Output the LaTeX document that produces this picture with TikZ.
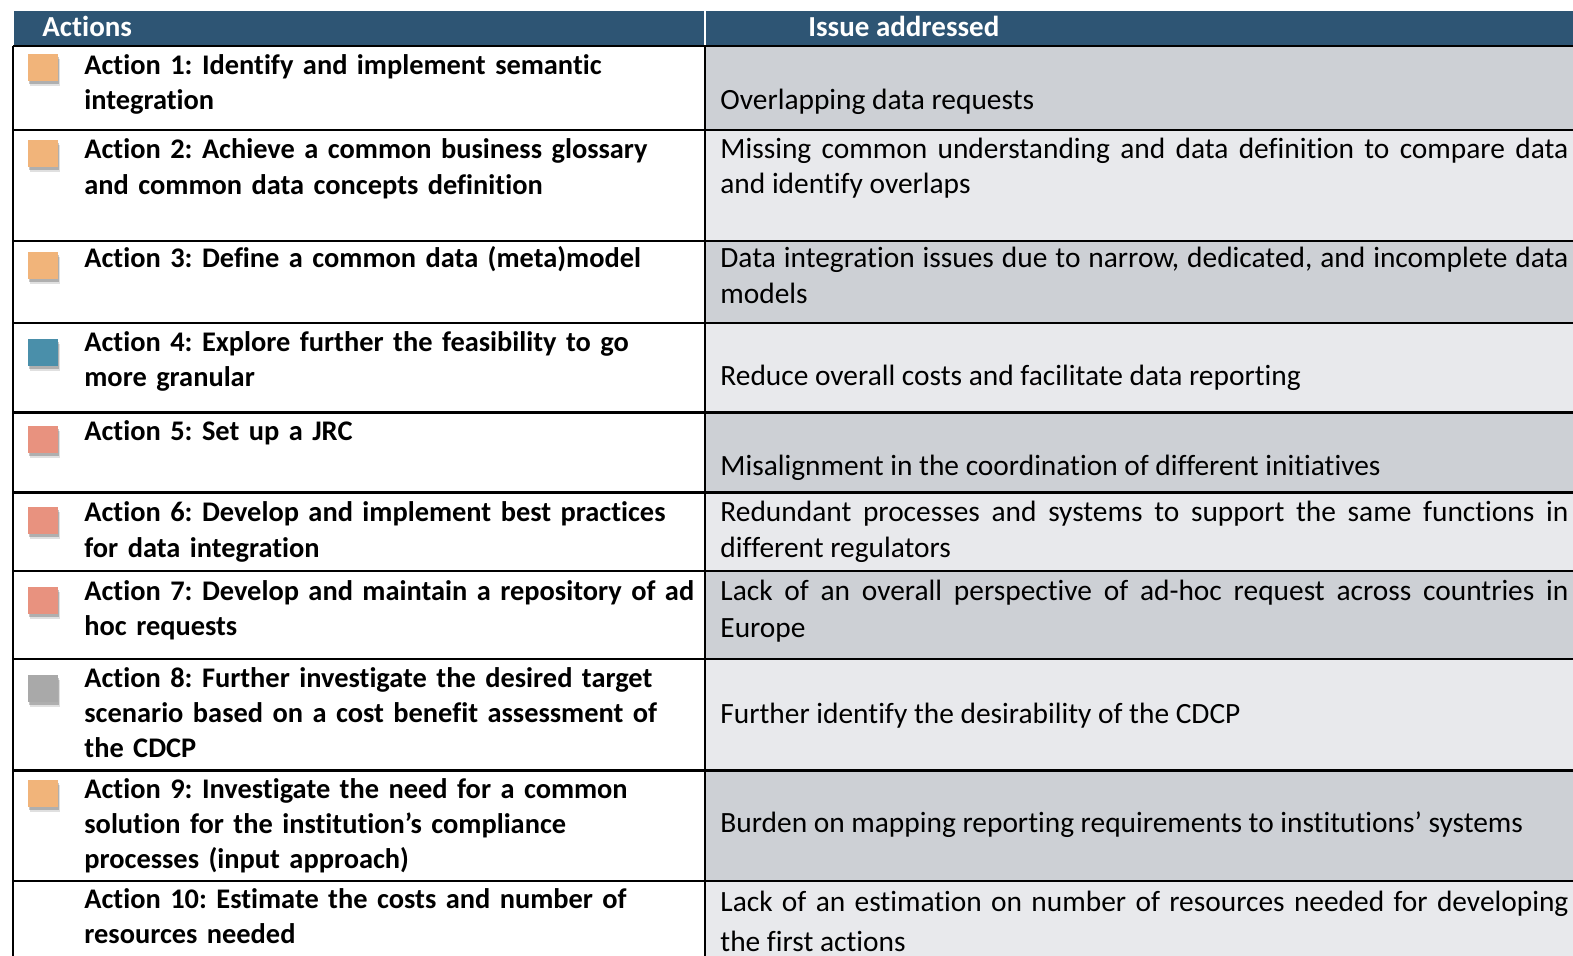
\documentclass[tikz,border=0pt]{standalone}
\usepackage{fontspec}
\setmainfont{Carlito}[Ligatures=NoCommon]
\usepackage{tikz}
\usetikzlibrary{shadows}
\frenchspacing
\definecolor{headblue}{HTML}{2E5574}
\definecolor{rowdark}{HTML}{CDD0D5}
\definecolor{rowlight}{HTML}{E8E9EC}
\definecolor{flagorange}{HTML}{F1B47A}
\definecolor{flagblue}{HTML}{4A8FAA}
\definecolor{flagsalmon}{HTML}{E8927F}
\definecolor{flaggrey}{HTML}{A9A9A9}
\tikzset{
	every node/.style={inner sep=0pt, font=\fontsize{14.7}{17.6}\selectfont\frenchspacing},
	head/.style={
		anchor=base west, text=white, font=\fontsize{14.5}{17.6}\selectfont\bfseries
	},
	action/.style={
		anchor=base west, align=left, text width=320pt,
		font=\fontsize{14.2}{17.6}\selectfont\bfseries\frenchspacing
	},
	issue/.style={
		anchor=base west, align=justify, text width=424pt
	},
	flag/.style={
		minimum width=15pt, minimum height=13.5pt,
		drop shadow={shadow xshift=0.6pt, shadow yshift=-1.4pt, opacity=0.22, fill=black},
		drop shadow={shadow xshift=1.2pt, shadow yshift=-2.4pt, opacity=0.12, fill=black}
	},
	tabline/.style={line width=1.4pt, black}
}

\begin{document}
\begin{tikzpicture}[x=0.5pt, y=-0.5pt]
\useasboundingbox (0,0) rectangle (1573,956);

% header bar
\fill[headblue] (14,11) rectangle (1573,46);
\draw[white, line width=1pt] (705,11) -- (705,46);
\node[head] (hActions) at (42,37) {Actions};
\node[head] (hIssue) at (808,37) {Issue addressed};

\foreach \ytop/\ybot/\shade in {46/130/rowdark, 130/241/rowlight, 241/323/rowdark,
	323/412.5/rowlight, 412.5/492.5/rowdark, 492.5/571/rowlight, 571/659/rowdark,
	659/770.5/rowlight, 770.5/881/rowdark, 881/956/rowlight}
	\fill[\shade] (705,\ytop) rectangle (1573,\ybot);

\foreach \y in {46,130,241,323,412.5,492.5,571,659,770.5,881}
	\draw[tabline] (13,\y) -- (1573,\y);
\draw[tabline] (13,46) -- (13,956) (705,46) -- (705,956);

\node[action] (act1) at (84,74.5) {Action 1: Identify and implement semantic\\integration};
\node[action] (act2) at (84,159) {Action 2: Achieve a common business glossary\\and common data concepts definition};
\node[action] (act3) at (84,268) {Action 3: Define a common data (meta)model};
\node[action] (act4) at (84,351.5) {Action 4: Explore further the feasibility to go\\more granular};
\node[action] (act5) at (84,440.5) {Action 5: Set up a JRC};
\node[action] (act6) at (84,522) {Action 6: Develop and implement best practices\\for data integration};
\node[action] (act7) at (84,600) {Action 7: Develop and maintain a repository of ad\\hoc requests};
\node[action] (act8) at (84,687.5) {Action 8: Further investigate the desired target\\scenario based on a cost benefit assessment of\\the CDCP};
\node[action] (act9) at (84,798) {Action 9: Investigate the need for a common\\solution for the institution’s compliance\\processes (input approach)};
\node[action] (act10) at (84,908) {Action 10: Estimate the costs and number of\\resources needed};

\node[issue] (iss1) at (720,109.5) {Overlapping data requests};
\node[issue] (iss2) at (720,158.5) {Missing common understanding and data definition to compare data\linebreak and identify overlaps};
\node[issue] (iss3) at (720,268) {Data integration issues due to narrow, dedicated, and incomplete data\linebreak models};
\node[issue] (iss4) at (720,386) {Reduce overall costs and facilitate data reporting};
\node[issue] (iss5) at (720,475.5) {Misalignment in the coordination of different initiatives};
\node[issue] (iss6) at (720,522) {Redundant processes and systems to support the same functions in\linebreak different regulators};
\node[issue, font=\fontsize{14.7}{18.5}\selectfont] (iss7) at (720,600) {Lack of an overall perspective of ad-hoc request across countries in\linebreak Europe};
\node[issue] (iss8) at (720,723) {Further identify the desirability of the CDCP};
\node[issue] (iss9) at (720,832.5) {Burden on mapping reporting requirements to institutions’ systems};
\node[issue, font=\fontsize{14.7}{20}\selectfont] (iss10) at (720,911) {Lack of an estimation on number of resources needed for developing\linebreak the first actions};

\foreach \y/\c [count=\i] in {67.5/flagorange, 154/flagorange, 265.5/flagorange,
	353/flagblue, 439.5/flagsalmon, 521/flagsalmon, 600.5/flagsalmon,
	688.5/flaggrey, 793.5/flagorange}
	\node[flag, fill=\c] (flag\i) at (43,\y) {};
\end{tikzpicture}
\end{document}
